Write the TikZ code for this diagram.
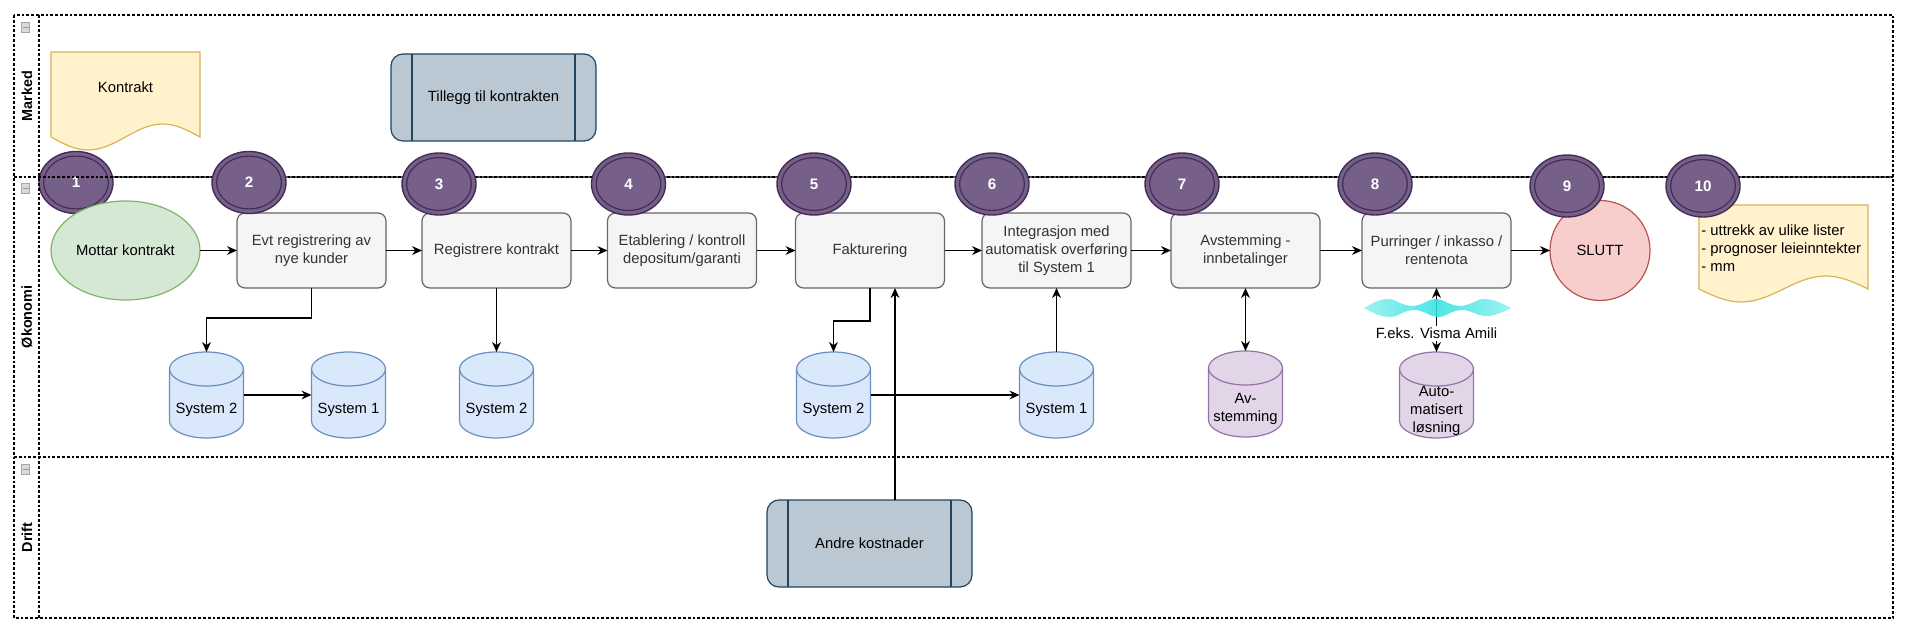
\documentclass[tikz,border=0pt]{standalone}
\usepackage{fontspec}
\setmainfont{Liberation Sans}
\usetikzlibrary{calc, positioning, arrows.meta, shapes.geometric}

\definecolor{boxfill}{HTML}{F5F5F5}
\definecolor{boxline}{HTML}{666666}
\definecolor{boxtext}{HTML}{333333}
\definecolor{greenfill}{HTML}{D5E8D4}
\definecolor{greenline}{HTML}{82B366}
\definecolor{bluefill}{HTML}{DAE8FC}
\definecolor{blueline}{HTML}{6C8EBF}
\definecolor{purplefill}{HTML}{E1D5E7}
\definecolor{purpleline}{HTML}{9673A6}
\definecolor{yellowfill}{HTML}{FFF2CC}
\definecolor{yellowline}{HTML}{D6B656}
\definecolor{redfill}{HTML}{F8CECC}
\definecolor{redline}{HTML}{B85450}
\definecolor{procfill}{HTML}{BAC8D3}
\definecolor{procline}{HTML}{23445D}
\definecolor{stepfill}{HTML}{76608A}
\definecolor{stepline}{HTML}{432D57}
\definecolor{wavefill}{HTML}{2EE2E2}
\definecolor{timeline}{HTML}{555555}

\newcommand{\drawdb}[2]{
    \draw[draw=#2line, fill=#2fill, line width=0.6pt] ([yshift=-8.5pt]#1.north west) -- ([yshift=8.5pt]#1.south west)
        arc[start angle=180, end angle=360, x radius=18.5pt, y radius=8.5pt] -- ([yshift=-8.5pt]#1.north east)
        arc[start angle=0, end angle=180, x radius=18.5pt, y radius=8.5pt] -- cycle;
    \draw[draw=#2line, line width=0.6pt] ([yshift=-8.5pt]#1.north west) arc[start angle=180, end angle=360, x radius=18.5pt, y radius=8.5pt];
}

\begin{document}
\begin{tikzpicture}[x=0.5pt, y=-0.5pt,
    font=\fontsize{7.4}{8.85}\selectfont,
    >={Stealth[length=5pt, width=4.4pt]},
    conn/.style={line width=0.65pt, black},
    lane/.style={dash pattern=on 1.4pt off 1pt, line width=0.6pt},
    lanelabel/.style={rotate=90, font=\fontsize{7.2}{8.6}\selectfont\bfseries},
    task/.style={rectangle, rounded corners=4pt, draw=boxline, fill=boxfill, text=boxtext, line width=0.6pt, minimum width=74.5pt, minimum height=37.5pt, align=center, inner sep=1pt, outer sep=0pt},
    endpoint/.style={ellipse, draw=#1line, fill=#1fill, line width=0.6pt, inner sep=0pt, outer sep=0pt},
    db/.style={rectangle, minimum width=37pt, minimum height=43pt, inner sep=0pt, outer sep=0pt},
    dbtext/.style={align=center, inner sep=0pt},
    proc/.style={rectangle, rounded corners=6pt, draw=procline, fill=procfill, line width=0.6pt, minimum width=102.5pt, minimum height=43.5pt, outer sep=0pt},
    docshape/.style={draw=yellowline, fill=yellowfill, line width=0.6pt},
    stepcirc/.style={ellipse, draw=stepline, fill=stepfill, line width=0.7pt, minimum width=37pt, minimum height=31pt, inner sep=0pt, text=white, font=\fontsize{7.6}{9}\selectfont\bfseries,
        path picture={\draw[stepline, line width=0.6pt] (path picture bounding box.center) ellipse [x radius=16.2pt, y radius=13.2pt];}}
]
    \useasboundingbox (0,0) rectangle (1906,630);

    \draw[timeline, line width=0.8pt] (39,177) -- (1893,177);
    \node[stepcirc] (C1) at (76,182.5) {1};

    \draw[lane] (14,15) rectangle (1893,618);
    \draw[lane] (39,15) -- (39,618);
    \draw[lane] (14,177) -- (1893,177);
    \draw[lane] (14,457) -- (1893,457);
    \foreach \y in {22,183,464} {
        \draw[gray!70, fill=gray!30, line width=0.4pt] (21.5,\y) rectangle (29.5,\y+10);
        \draw[gray!80, line width=0.4pt] (22.5,\y+5) -- (28.5,\y+5);
    }
    \node[lanelabel] (LM) at (27,96) {Marked};
    \node[lanelabel] (LO) at (27,317) {Økonomi};
    \node[lanelabel] (LD) at (27,537.5) {Drift};

    \draw[docshape] (51,52) -- (200,52) -- (200,137) sin (162.75,124) cos (125.5,137) sin (88.25,150) cos (51,137) -- cycle;
    \node (KT) at (125.5,87) {Kontrakt};

    \node[proc] (TK) at (493.5,97.5) {Tillegg til kontrakten};
    \draw[procline, line width=0.6pt] ([xshift=10.5pt]TK.north west) -- ([xshift=10.5pt]TK.south west);
    \draw[procline, line width=0.6pt] ([xshift=-10.5pt]TK.north east) -- ([xshift=-10.5pt]TK.south east);

    \node[endpoint=green, minimum width=74.5pt, minimum height=49.5pt] (MK) at (125.5,250.5) {Mottar kontrakt};
    \node[task, right=18.5pt of MK] (ER) {Evt registrering av\\nye kunder};
    \node[task, right=18pt of ER] (RK) {Registrere kontrakt};
    \node[task, right=18.25pt of RK] (ED) {Etablering / kontroll\\depositum/garanti};
    \node[task, right=19.5pt of ED] (FA) {Fakturering};
    \node[task, right=18.75pt of FA] (IS) {Integrasjon med\\automatisk overføring\\til System 1};
    \node[task, right=20pt of IS] (AI) {Avstemming -\\innbetalinger};
    \node[task, right=21pt of AI] (PI) {Purringer / inkasso /\\rentenota};
    \node[endpoint=red, minimum width=50pt, minimum height=50pt, right=19.5pt of PI] (SL) {SLUTT};

    \draw[docshape] (1699,205) -- (1868,205) -- (1868,289) sin (1825.75,276) cos (1783.5,289) sin (1741.25,302) cos (1699,289) -- cycle;
    \node[anchor=west, align=left, inner sep=0pt] (UL) at (1701,248) {- uttrekk av ulike lister\\- prognoser leieinntekter\\- mm};

    \node[db, below=32pt of ER, xshift=-52.5pt] (SA2) {};
    \node[db, right=34pt of SA2] (SA1) {};
    \node[db, below=32pt of RK] (SB2) {};
    \node[db, below=32pt of FA, xshift=-18.25pt] (SC2) {};
    \node[db, below=32pt of IS] (SC1) {};
    \node[db, below=31.5pt of AI] (AV) {};
    \node[db, below=32pt of PI] (AL) {};
    \drawdb{SA2}{blue}
    \drawdb{SA1}{blue}
    \drawdb{SB2}{blue}
    \drawdb{SC2}{blue}
    \drawdb{SC1}{blue}
    \drawdb{AV}{purple}
    \drawdb{AL}{purple}
    \node[dbtext] (SA2t) at ([yshift=-7.5pt]SA2.center) {System 2};
    \node[dbtext] (SA1t) at ([yshift=-7.5pt]SA1.center) {System 1};
    \node[dbtext] (SB2t) at ([yshift=-7.5pt]SB2.center) {System 2};
    \node[dbtext] (SC2t) at ([yshift=-7.5pt]SC2.center) {System 2};
    \node[dbtext] (SC1t) at ([yshift=-7.5pt]SC1.center) {System 1};
    \node[dbtext] (AVt) at ([yshift=-7.5pt]AV.center) {Av-\\stemming};
    \node[dbtext] (ALt) at ([yshift=-8pt]AL.center) {Auto-\\matisert\\løsning};

    \node[proc] (AK) at (869.5,543.5) {Andre kostnader};
    \draw[procline, line width=0.6pt] ([xshift=10.5pt]AK.north west) -- ([xshift=10.5pt]AK.south west);
    \draw[procline, line width=0.6pt] ([xshift=-10.5pt]AK.north east) -- ([xshift=-10.5pt]AK.south east);

    \draw[conn] (MK) edge[->] (ER);
    \draw[conn] (ER) edge[->] (RK);
    \draw[conn] (RK) edge[->] (ED);
    \draw[conn] (ED) edge[->] (FA);
    \draw[conn] (FA) edge[->] (IS);
    \draw[conn] (IS) edge[->] (AI);
    \draw[conn] (AI) edge[->] (PI);
    \draw[conn] (PI) edge[->] (SL);

    \draw[conn, ->] (ER.south) -- ++(0,30) -| (SA2.north);
    \draw[conn] (SA2) edge[->] (SA1);
    \draw[conn] (RK) edge[->] (SB2);
    \draw[conn, ->] (FA.south) -- ++(0,33) -| (SC2.north);
    \draw[conn] (SC2) edge[->] (SC1);
    \draw[conn] (SC1) edge[->] (IS);
    \draw[conn, ->] ([xshift=12.75pt]AK.north) -- ([xshift=12.75pt]AK.north |- FA.south);
    \draw[conn, <->] (AI) -- (AV);
    \draw[conn, <->] (AL) -- node[pos=0.29, fill=white, inner sep=1pt] (VA) {F.eks. Visma Amili} (PI);

    \shade[left color=wavefill!55, right color=wavefill!55, middle color=wavefill, opacity=0.85] (1364,308) sin (1388,299) cos (1400,303) sin (1412,306) cos (1424,303) sin (1436,299) cos (1448,303) sin (1460,306) cos (1472,303) sin (1484,299) cos (1511,308)
        sin (1486,316) cos (1474,313) sin (1462,310) cos (1450,313) sin (1438,317) cos (1426,313) sin (1414,310) cos (1402,313) sin (1390,317) cos (1364,308) -- cycle;

    \foreach \i/\x/\y in {2/249/182.5, 3/439/184, 4/628.5/184, 5/814/184, 6/992/184, 7/1182/184, 8/1375/184, 9/1567/186, 10/1703/186}
        \node[stepcirc] (C\i) at (\x,\y) {\i};
\end{tikzpicture}
\end{document}
